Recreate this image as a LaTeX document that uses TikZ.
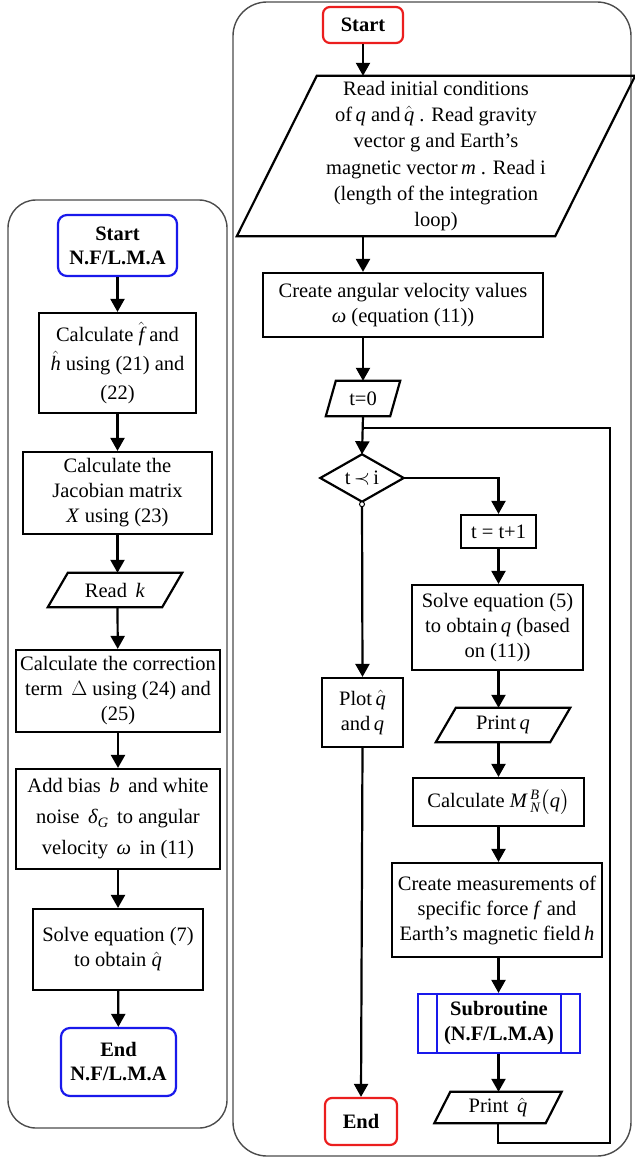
\documentclass[tikz,border=0pt]{standalone}
\usepackage{fontspec}
\setmainfont{Liberation Serif}
\usepackage{amsmath}
\usetikzlibrary{arrows.meta}
\definecolor{myblue}{RGB}{25,25,235}
\definecolor{myred}{RGB}{235,30,30}
\newcommand\drawpara[2]{\draw[line width=2.2pt, line join=miter] ([xshift=#2]#1.north west) -- ([xshift=#2]#1.north east) -- ([xshift=-#2]#1.south east) -- ([xshift=-#2]#1.south west) -- cycle;}
\newcommand\qh{$\hat{\textit{q}}$}
\begin{document}
\begin{tikzpicture}[x=1pt,y=-1pt,
  base/.style={inner sep=0pt, align=center, font=\fontsize{20.5}{25}\selectfont},
  box/.style={base, draw, line width=2.2pt},
  bterm/.style={box, draw=myblue, rounded corners=9pt, font=\fontsize{20.5}{24}\selectfont\bfseries},
  rterm/.style={box, draw=myred, rounded corners=7pt, font=\fontsize{20.5}{24}\selectfont\bfseries},
  arr/.style={line width=2.2pt, -{Triangle[length=13pt,width=14pt]}},
  ln/.style={line width=2.2pt},
  cont/.style={draw=black!70, line width=1.4pt, rounded corners=28pt}]
\useasboundingbox (0,0) rectangle (634,1158);
% containers
\draw[cont] (8,200) rectangle (227,1128);
\draw[cont, rounded corners=34pt] (233,2) rectangle (631,1156);

% ---------- left column ----------
\node[bterm, minimum width=119pt, minimum height=61pt] (lstart) at (117.5,245.5) {Start\\N.F/L.M.A};
\node[box, minimum width=157pt, minimum height=100pt, font=\fontsize{20.5}{29}\selectfont] (lcalc) at (117.5,363)
  {Calculate $\hat{\textit{f}}$ and\\$\hat{\textit{h}}$ using (21) and\\(22)};
\node[box, minimum width=189pt, minimum height=82pt] (ljac) at (117.5,493)
  {Calculate the\\Jacobian matrix\\\textit{X} using (23)};
\node[base, minimum width=114pt, minimum height=34pt] (lreadk) at (115,590) {Read\, \textit{k}};
\drawpara{lreadk}{10pt}
\node[box, minimum width=204pt, minimum height=82pt] (lcorr) at (118,691)
  {Calculate the correction\\term\, $\Delta$ using (24) and\\(25)};
\node[box, minimum width=204pt, minimum height=100pt, font=\fontsize{20.5}{31}\selectfont] (lbias) at (118,819)
  {Add bias\, \textit{b}\, and white\\noise\, \textit{δ}$_{\textit{G}}$\, to angular\\velocity\, \textit{ω}\, in (11)};
\node[box, minimum width=170pt, minimum height=81pt] (lsolve) at (118,949.5)
  {Solve equation (7)\\to obtain \qh};
\node[bterm, minimum width=115pt, minimum height=68pt] (lend) at (118.5,1062) {End\\N.F/L.M.A};

\draw[arr] (lstart) -- (lcalc);
\draw[arr] (lcalc) -- (ljac);
\draw[arr] (ljac) -- (ljac.south |- lreadk.north);
\draw[arr] (ljac.south |- lreadk.south) -- (lcorr);
\draw[arr] (lcorr) -- (lbias);
\draw[arr] (lbias) -- (lsolve);
\draw[arr] (lsolve) -- (lend);

% ---------- right column ----------
\node[rterm, minimum width=80pt, minimum height=36pt] (rstart) at (363,25) {Start};
\node[base, minimum width=318pt, minimum height=160pt, font=\fontsize{20.5}{26.2}\selectfont] (rinit) at (436,156)
  {Read initial conditions\\of\,\textit{q} and\,\qh\ . Read gravity\\vector g and Earth’s\\magnetic vector\,\textit{m} . Read i\\(length of the integration\\loop)};
\drawpara{rinit}{40pt}
\node[box, minimum width=280pt, minimum height=64pt] (rang) at (403,305)
  {Create angular velocity values\\\textit{ω} (equation (11))};
\node[base, minimum width=64pt, minimum height=35pt] (rt0) at (363,398.5) {t=0};
\drawpara{rt0}{5pt}
\node[base, minimum width=83pt, minimum height=47pt] (rdec) at (362,478) {t\,$\prec$\,i};
\draw[ln, line join=miter] (rdec.north) -- (rdec.east) -- (rdec.south) -- (rdec.west) -- cycle;
\node[box, minimum width=75pt, minimum height=33pt] (rinc) at (498.5,531.5) {t = t+1};
\node[box, minimum width=171pt, minimum height=85pt] (rsolve) at (497.5,627.5)
  {Solve equation (5)\\to obtain\,\textit{q} (based\\on (11))};
\node[base, minimum width=114pt, minimum height=34pt] (rprq) at (503,725) {Print\,\textit{q}};
\drawpara{rprq}{10pt}
\node[box, minimum width=171pt, minimum height=48pt] (rcalcM) at (498.5,802)
  {Calculate \textit{M}$^{\,\textit{B}}_{\,\textit{N}}\bigl(\textit{q}\bigr)$};
\node[box, minimum width=210pt, minimum height=94pt] (rmeas) at (497,910)
  {Create measurements of\\specific force \textit{f} and\\Earth’s magnetic field\,\textit{h}};
\node[box, draw=myblue, minimum width=162pt, minimum height=59pt, font=\fontsize{20.5}{25}\selectfont\bfseries] (rsub) at (499,1023.5)
  {Subroutine\\(N.F/L.M.A)};
\draw[myblue, line width=2.2pt] ([xshift=20pt]rsub.north west) -- ([xshift=20pt]rsub.south west)
  ([xshift=-20pt]rsub.north east) -- ([xshift=-20pt]rsub.south east);
\node[base, minimum width=111pt, minimum height=31pt] (rprqh) at (498,1107.5) {Print\, \qh};
\drawpara{rprqh}{8pt}
\node[box, minimum width=81pt, minimum height=69pt] (rplot) at (362.5,712.5) {Plot\,\qh\\and\,\textit{q}};
\node[rterm, minimum width=72pt, minimum height=47pt] (rend) at (361,1121.5) {End};

\coordinate (join) at (363,428);
\coordinate (loopR) at (610,1143);

\draw[arr] (rstart) -- (rstart.south |- rinit.north);
\draw[arr] (rstart.south |- rinit.south) -- (rstart.south |- rang.north);
\draw[arr] (rstart.south |- rang.south) -- (rt0.north);
\draw[arr] (rt0.south) -- (rdec.north);
\draw[ln] (rprqh.south) -- (rprqh.south |- loopR) -- (loopR) |- (join);
\draw[arr] (rdec.east) -| (rinc.north);
\draw[arr] (rinc) -- (rinc.south |- rsolve.north);
\draw[arr] (rinc.south |- rsolve.south) -- (rinc.south |- rprq.north);
\draw[arr] (rinc.south |- rprq.south) -- (rinc.south |- rcalcM.north);
\draw[arr] (rinc.south |- rcalcM.south) -- (rinc.south |- rmeas.north);
\draw[arr] (rinc.south |- rmeas.south) -- (rinc.south |- rsub.north);
\draw[arr] (rinc.south |- rsub.south) -- (rinc.south |- rprqh.north);
\draw[arr] (rdec.south) -- (rplot.north);
\draw[arr] (rplot.south) -- (rend.north);
\draw[line width=1pt, fill=white] ([yshift=-2.5pt]rdec.south) circle (2.5pt);
\end{tikzpicture}
\end{document}
